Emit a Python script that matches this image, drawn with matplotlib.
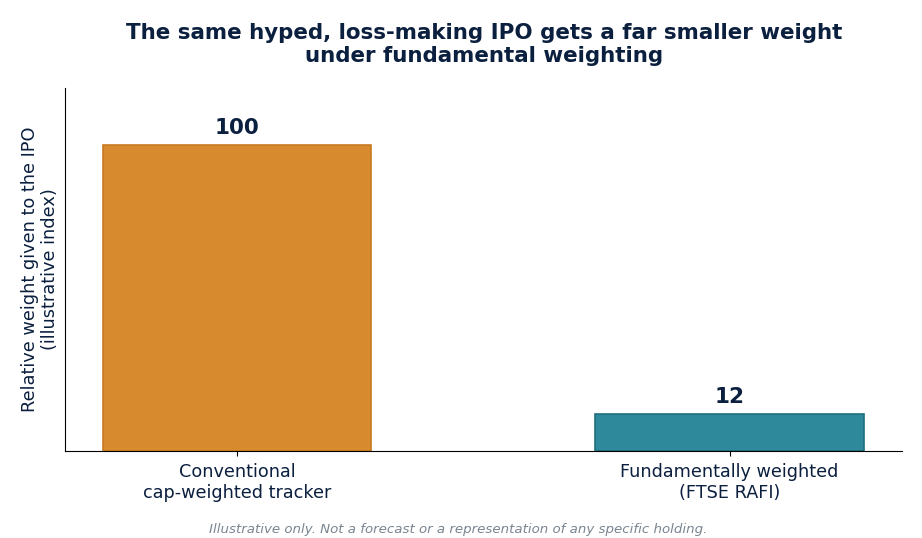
import matplotlib.pyplot as plt

categories = ['Conventional\ncap-weighted tracker', 'Fundamentally weighted\n(FTSE RAFI)']
weights = [100, 12]
bar_colors = ['#d88b2e', '#2e8a9b']
edge_colors = ['#c77a22', '#1f6e7d']

navy = '#0b1f3f'

plt.rcParams['font.family'] = ['DejaVu Sans']

fig = plt.figure(figsize=(9.22, 5.38), dpi=100)
ax = fig.add_axes([0.0705, 0.1617, 0.9075, 0.6747])

x = list(range(len(categories)))
bars = ax.bar(x, weights, width=0.545, color=bar_colors,
              edgecolor=edge_colors, linewidth=1.2)

for b, v in zip(bars, weights):
    ax.annotate(str(v), (b.get_x() + b.get_width() / 2, b.get_height()),
                xytext=(0, 5), textcoords='offset points',
                ha='center', va='bottom', fontsize=15.5,
                fontweight='bold', color=navy)

ax.set_ylim(0, 118.6)
ax.set_xticks(x)
ax.set_xticklabels(categories, fontsize=12.7, color=navy)
ax.tick_params(axis='x', pad=5)
ax.set_yticks([])
ax.set_ylabel('Relative weight given to the IPO\n(illustrative index)',
              fontsize=12.8, color=navy)

ax.spines['top'].set_visible(False)
ax.spines['right'].set_visible(False)

fig.suptitle('The same hyped, loss-making IPO gets a far smaller weight\n'
             'under fundamental weighting',
             x=0.525, y=0.958, fontsize=15.4, fontweight='bold', color=navy)

fig.text(0.497, 0.003, 'Illustrative only. Not a forecast or a representation '
         'of any specific holding.', ha='center', va='bottom',
         fontsize=9.6, style='italic', color='#7a8591')

fig.savefig('out.png', dpi=100)
